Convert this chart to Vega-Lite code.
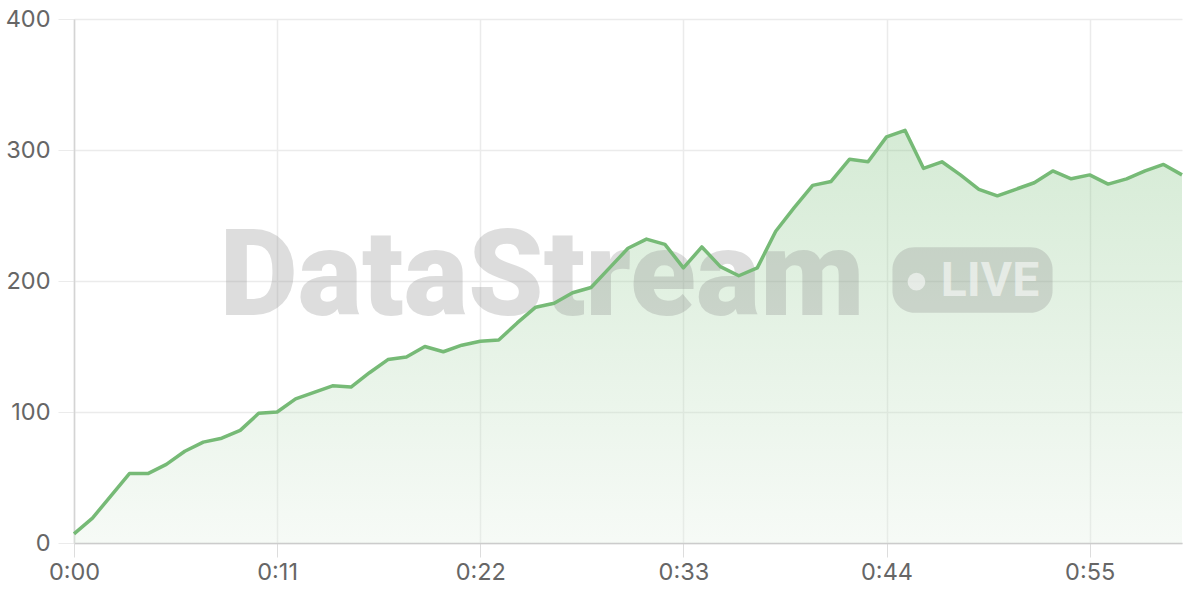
{
  "$schema": "https://vega.github.io/schema/vega-lite/v6.json",
  "width": 1108,
  "height": 524,
  "autosize": {"type": "none"},
  "padding": {"left": 74, "top": 19, "right": 18, "bottom": 57},
  "background": "white",
  "datasets": {
    "series": [
      {"t": 0, "v": 7}, {"t": 1, "v": 19}, {"t": 2, "v": 36}, {"t": 3, "v": 53},
      {"t": 4, "v": 53}, {"t": 5, "v": 60}, {"t": 6, "v": 70}, {"t": 7, "v": 77},
      {"t": 8, "v": 80}, {"t": 9, "v": 86}, {"t": 10, "v": 99}, {"t": 11, "v": 100},
      {"t": 12, "v": 110}, {"t": 13, "v": 115}, {"t": 14, "v": 120}, {"t": 15, "v": 119},
      {"t": 16, "v": 130}, {"t": 17, "v": 140}, {"t": 18, "v": 142}, {"t": 19, "v": 150},
      {"t": 20, "v": 146}, {"t": 21, "v": 151}, {"t": 22, "v": 154}, {"t": 23, "v": 155},
      {"t": 24, "v": 168}, {"t": 25, "v": 180}, {"t": 26, "v": 183}, {"t": 27, "v": 191},
      {"t": 28, "v": 195}, {"t": 29, "v": 210}, {"t": 30, "v": 225}, {"t": 31, "v": 232},
      {"t": 32, "v": 228}, {"t": 33, "v": 210}, {"t": 34, "v": 226}, {"t": 35, "v": 211},
      {"t": 36, "v": 204}, {"t": 37, "v": 210}, {"t": 38, "v": 238}, {"t": 39, "v": 256},
      {"t": 40, "v": 273}, {"t": 41, "v": 276}, {"t": 42, "v": 293}, {"t": 43, "v": 291},
      {"t": 44, "v": 310}, {"t": 45, "v": 315}, {"t": 46, "v": 286}, {"t": 47, "v": 291},
      {"t": 48, "v": 281}, {"t": 49, "v": 270}, {"t": 50, "v": 265}, {"t": 51, "v": 270},
      {"t": 52, "v": 275}, {"t": 53, "v": 284}, {"t": 54, "v": 278}, {"t": 55, "v": 281},
      {"t": 56, "v": 274}, {"t": 57, "v": 278}, {"t": 58, "v": 284}, {"t": 59, "v": 289},
      {"t": 60, "v": 281}
    ],
    "brand": [{"name": "DataStream", "badge": "LIVE"}]
  },
  "layer": [
    {
      "data": {"name": "series"},
      "mark": {
        "type": "area",
        "fillOpacity": 0.3,
        "color": {
          "gradient": "linear",
          "x1": 0, "y1": 0, "x2": 0, "y2": 1,
          "stops": [
            {"offset": 0, "color": "#74bc74"},
            {"offset": 1, "color": "#e2efe2"}
          ]
        }
      },
      "encoding": {
        "x": {
          "field": "t",
          "type": "quantitative",
          "scale": {"domain": [0, 60], "nice": false, "zero": false},
          "axis": {
            "title": null,
            "values": [0, 11, 22, 33, 44, 55],
            "labelExpr": "'0:' + (datum.value < 10 ? '0' : '') + datum.value",
            "labelFlush": false,
            "tickSize": 14,
            "labelPadding": 3,
            "domainColor": "#cccccc",
            "tickColor": "#dddddd"
          }
        },
        "y": {
          "field": "v",
          "type": "quantitative",
          "scale": {"domain": [0, 400], "nice": false},
          "axis": {
            "title": null,
            "values": [0, 100, 200, 300, 400],
            "tickSize": 16,
            "labelPadding": 8,
            "domainColor": "#d4d4d4",
            "tickColor": "#ebebeb"
          }
        }
      }
    },
    {
      "data": {"name": "brand"},
      "mark": {
        "type": "text",
        "font": "Roboto",
        "fontWeight": 900,
        "fontSize": 121,
        "letterSpacing": 2,
        "color": "#888888",
        "opacity": 0.28,
        "align": "center",
        "baseline": "alphabetic"
      },
      "encoding": {
        "x": {"datum": 25.34, "type": "quantitative"},
        "y": {"datum": 174, "type": "quantitative"},
        "text": {"field": "name", "type": "nominal"}
      }
    },
    {
      "data": {"name": "brand"},
      "mark": {
        "type": "rect",
        "color": "#888888",
        "opacity": 0.28,
        "cornerRadius": 22
      },
      "encoding": {
        "x": {"datum": 44.32, "type": "quantitative"},
        "x2": {"datum": 52.99},
        "y": {"datum": 175.8, "type": "quantitative"},
        "y2": {"datum": 225.7}
      }
    },
    {
      "data": {"name": "brand"},
      "mark": {
        "type": "point",
        "shape": "circle",
        "filled": true,
        "size": 314,
        "color": "#ffffff",
        "opacity": 0.55
      },
      "encoding": {
        "x": {"datum": 45.62, "type": "quantitative"},
        "y": {"datum": 199.5, "type": "quantitative"}
      }
    },
    {
      "data": {"name": "brand"},
      "mark": {
        "type": "text",
        "font": "Roboto",
        "fontWeight": 700,
        "fontSize": 48,
        "color": "#ffffff",
        "opacity": 0.55,
        "align": "left",
        "baseline": "alphabetic"
      },
      "encoding": {
        "x": {"datum": 46.94, "type": "quantitative"},
        "y": {"datum": 188.5, "type": "quantitative"},
        "text": {"field": "badge", "type": "nominal"}
      }
    },
    {
      "data": {"name": "series"},
      "mark": {
        "type": "line",
        "color": "#76ba76",
        "strokeWidth": 3.5,
        "strokeJoin": "round"
      },
      "encoding": {
        "x": {"field": "t", "type": "quantitative"},
        "y": {"field": "v", "type": "quantitative"}
      }
    }
  ],
  "config": {
    "view": {"stroke": null},
    "axis": {
      "labelFont": "Inter",
      "labelFontSize": 23.5,
      "labelColor": "#666666",
      "gridColor": "#ebebeb",
      "gridWidth": 1.5,
      "domainWidth": 1.5
    }
  }
}
